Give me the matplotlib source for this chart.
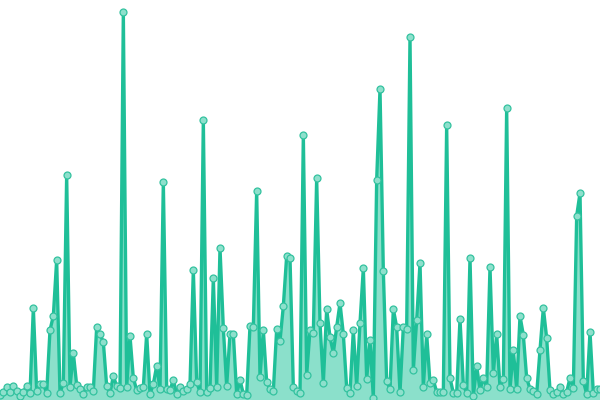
import numpy as np
import matplotlib
matplotlib.use("Agg")
import matplotlib.pyplot as plt

# values (arbitrary units, one per point)
values = [
    5, 8, 13, 8, 14, 9, 4, 8, 14, 7,
    92, 9, 16, 16, 7, 70, 84, 140, 7, 17,
    225, 13, 47, 15, 11, 6, 13, 13, 9, 73,
    66, 58, 14, 7, 24, 14, 12, 388, 13, 64,
    22, 10, 12, 13, 66, 6, 16, 34, 11, 218,
    11, 10, 20, 6, 13, 9, 11, 16, 130, 18,
    8, 280, 8, 12, 122, 13, 152, 72, 14, 66,
    66, 6, 20, 6, 5, 74, 73, 209, 23, 70,
    18, 11, 9, 71, 59, 94, 144, 142, 13, 9,
    7, 265, 25, 70, 67, 222, 77, 17, 91, 63,
    47, 73, 97, 66, 12, 7, 70, 14, 77, 132,
    21, 60, 2, 220, 311, 129, 19, 11, 91, 73,
    8, 73, 71, 363, 30, 80, 137, 13, 66, 17,
    20, 8, 8, 8, 275, 22, 7, 7, 81, 15,
    7, 142, 4, 34, 10, 22, 13, 133, 27, 66,
    13, 21, 292, 11, 50, 11, 84, 65, 22, 11,
    9, 6, 50, 92, 62, 10, 6, 8, 13, 6,
    8, 22, 12, 184, 207, 19, 6, 68, 7, 11, 11,
]
x = np.arange(len(values))

line_color = "#1fbf98"
fill_color = "#8be0cb"

fig = plt.figure(figsize=(6, 4), dpi=100)
ax = fig.add_axes([0, 0, 1, 1])
ax.fill_between(x, values, 0, color=fill_color, linewidth=0)
ax.plot(x, values, color=line_color, linewidth=2.4, solid_joinstyle="round",
        marker="o", markersize=5, markerfacecolor="#8ee0cc",
        markeredgecolor="#33c29f", markeredgewidth=0.9)
ax.set_xlim(0, len(values) - 1)
ax.set_ylim(0, 400)
ax.axis("off")
fig.savefig("out.png", dpi=100)
